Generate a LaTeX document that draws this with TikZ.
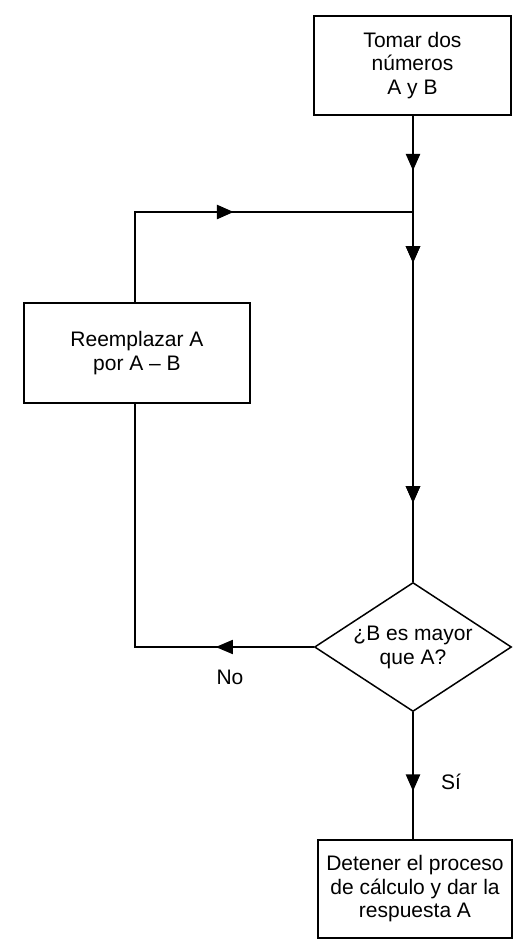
\documentclass[tikz,border=0pt]{standalone}
\usepackage{fontspec}
\setmainfont{Liberation Sans}
\usetikzlibrary{shapes.geometric,arrows.meta,decorations.markings}
\tikzset{
  x=1pt,y=-1pt,
  procbox/.style={draw,line width=1.5pt,inner sep=0pt,align=center,
    font=\fontsize{21}{23.5}\selectfont},
  decbox/.style={draw,diamond,line width=1.5pt,inner sep=0pt,aspect=1.53,
    minimum width=197pt,minimum height=129pt,align=center,
    font=\fontsize{21}{24}\selectfont},
  lbl/.style={font=\fontsize{21}{24}\selectfont},
  flow/.style={line width=2.8pt},
  thinflow/.style={line width=1.7pt},
  arrowat/.style={postaction={decorate},decoration={markings,
    mark=at position #1 with {\arrow{Triangle[length=17pt,width=14pt]}}}},
}
\begin{document}
\begin{tikzpicture}
\useasboundingbox (0,0) rectangle (523,939);
\node[procbox,minimum width=197pt,minimum height=99pt] (top) at (412.5,65.5)
  {Tomar dos\\números\\A y B};
\node[procbox,minimum width=226pt,minimum height=100pt] (repl) at (137,353)
  {Reemplazar A\\por A – B};
\node[decbox] (dec) at (413,647) {¿B es mayor\\que A?};
\node[procbox,minimum width=194pt,minimum height=98pt] (stop) at (415,889)
  {Detener el proceso\\de cálculo y dar la\\respuesta A};
\coordinate (j) at (413,212);
\node[lbl] (no) at (230,677) {No};
\node[lbl] (si) at (451,782) {Sí};
% main line
\draw[flow,arrowat=55pt] (top.south -| j) -- (j);
\draw[flow,arrowat=51pt,arrowat=291pt] (j) -- (dec.north);
% return line
\draw[flow,arrowat=189pt] (repl.north -| 135,0) |- (j);
% No branch
\draw[thinflow,arrowat=98pt] (dec.west) -| (repl.south -| 135,0);
% Si branch
\draw[flow,arrowat=79pt] (dec.south) -- (stop.north -| dec.south);
\end{tikzpicture}
\end{document}
